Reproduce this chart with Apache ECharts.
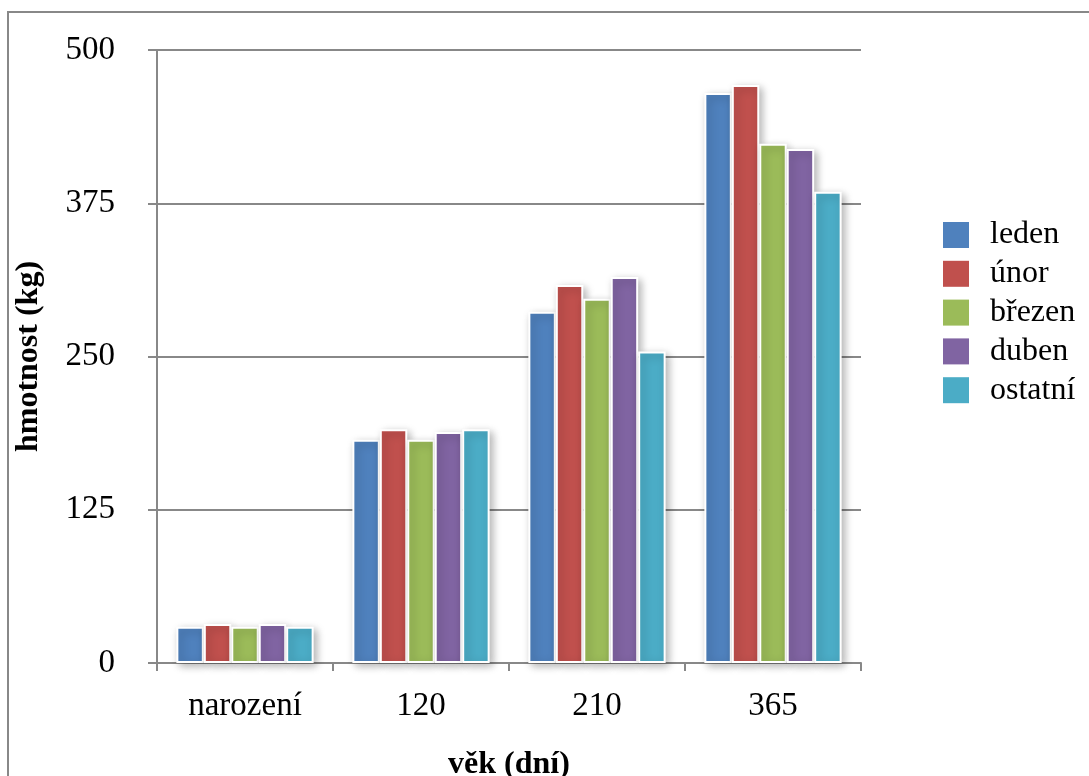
<!DOCTYPE html>
<html>
<head>
<meta charset="utf-8">
<script src="https://cdn.jsdelivr.net/npm/echarts@6/dist/echarts.min.js"></script>
<style>
html,body{margin:0;padding:0;background:#fff;}
#chart{width:1089px;height:776px;}
</style>
</head>
<body>
<div id="chart"></div>
<script>
const categories = ['narození', '120', '210', '365'];
const seriesNames = ['leden', 'únor', 'březen', 'duben', 'ostatní'];
const leden   = [29.6, 182, 286.5, 465];
const unor    = [31.8, 190.6, 308.3, 471.5];
const brezen  = [29.6, 182, 297.2, 423.6];
const duben   = [31.8, 188.4, 314.8, 419.2];
const ostatni = [29.6, 190.6, 254, 384.4];
const colors = ['#4F81BD', '#C0504D', '#9BBB59', '#8064A2', '#4BACC6'];
const yTicks = [0, 125, 250, 375, 500];

const allValues = [leden, unor, brezen, duben, ostatni];
const font = 'Liberation Serif';

const chart = echarts.init(document.getElementById('chart'));
chart.setOption({
  animation: false,
  color: colors,
  graphic: [{
    type: 'rect',
    shape: { x: 8, y: 12, width: 1200, height: 900 },
    style: { fill: 'none', stroke: '#888', lineWidth: 2 },
    z: -1
  }],
  grid: { left: 157, top: 50, right: 228, bottom: 113, containLabel: false, outerBoundsMode: 'none' },
  legend: {
    orient: 'vertical',
    left: 938,
    top: 214,
    itemWidth: 26,
    itemHeight: 26,
    itemGap: 6.8,
    icon: 'rect',
    data: seriesNames,
    itemStyle: { borderWidth: 0, shadowBlur: 0, shadowOffsetX: 0, shadowOffsetY: 0 },
    textStyle: { fontFamily: font, fontSize: 32, color: '#000', padding: [0, 0, 0, 16] }
  },
  xAxis: {
    type: 'category',
    data: categories,
    name: 'věk (dní)',
    nameLocation: 'middle',
    nameGap: 86,
    nameTextStyle: { fontFamily: font, fontSize: 32, fontWeight: 'bold', color: '#000' },
    axisLine: { lineStyle: { color: '#888', width: 2 } },
    axisTick: { show: true, length: 8, lineStyle: { color: '#888', width: 2 } },
    axisLabel: { fontFamily: font, fontSize: 33, color: '#000', margin: 27 }
  },
  yAxis: {
    type: 'value',
    min: 0,
    max: 500,
    interval: 125,
    name: 'hmotnost (kg)',
    nameLocation: 'middle',
    nameGap: 112,
    nameTextStyle: { fontFamily: font, fontSize: 32, fontWeight: 'bold', color: '#000' },
    axisLine: { show: true, lineStyle: { color: '#888', width: 2 } },
    axisTick: { show: true, length: 9, lineStyle: { color: '#888', width: 2 } },
    splitLine: { show: true, lineStyle: { color: '#888', width: 2 } },
    axisLabel: {
      fontFamily: font, fontSize: 33, color: '#000', margin: 42,
      formatter: v => (yTicks.indexOf(v) >= 0 ? String(v) : '')
    }
  },
  series: seriesNames.map((name, i) => ({
    name: name,
    type: 'bar',
    data: allValues[i],
    barGap: '0%',
    barCategoryGap: '22%',
    itemStyle: {
      color: colors[i],
      borderColor: '#fff',
      borderWidth: 2,
      shadowColor: 'rgba(0,0,0,0.3)',
      shadowBlur: 8,
      shadowOffsetX: 3,
      shadowOffsetY: 3
    }
  }))
});
</script>
</body>
</html>
